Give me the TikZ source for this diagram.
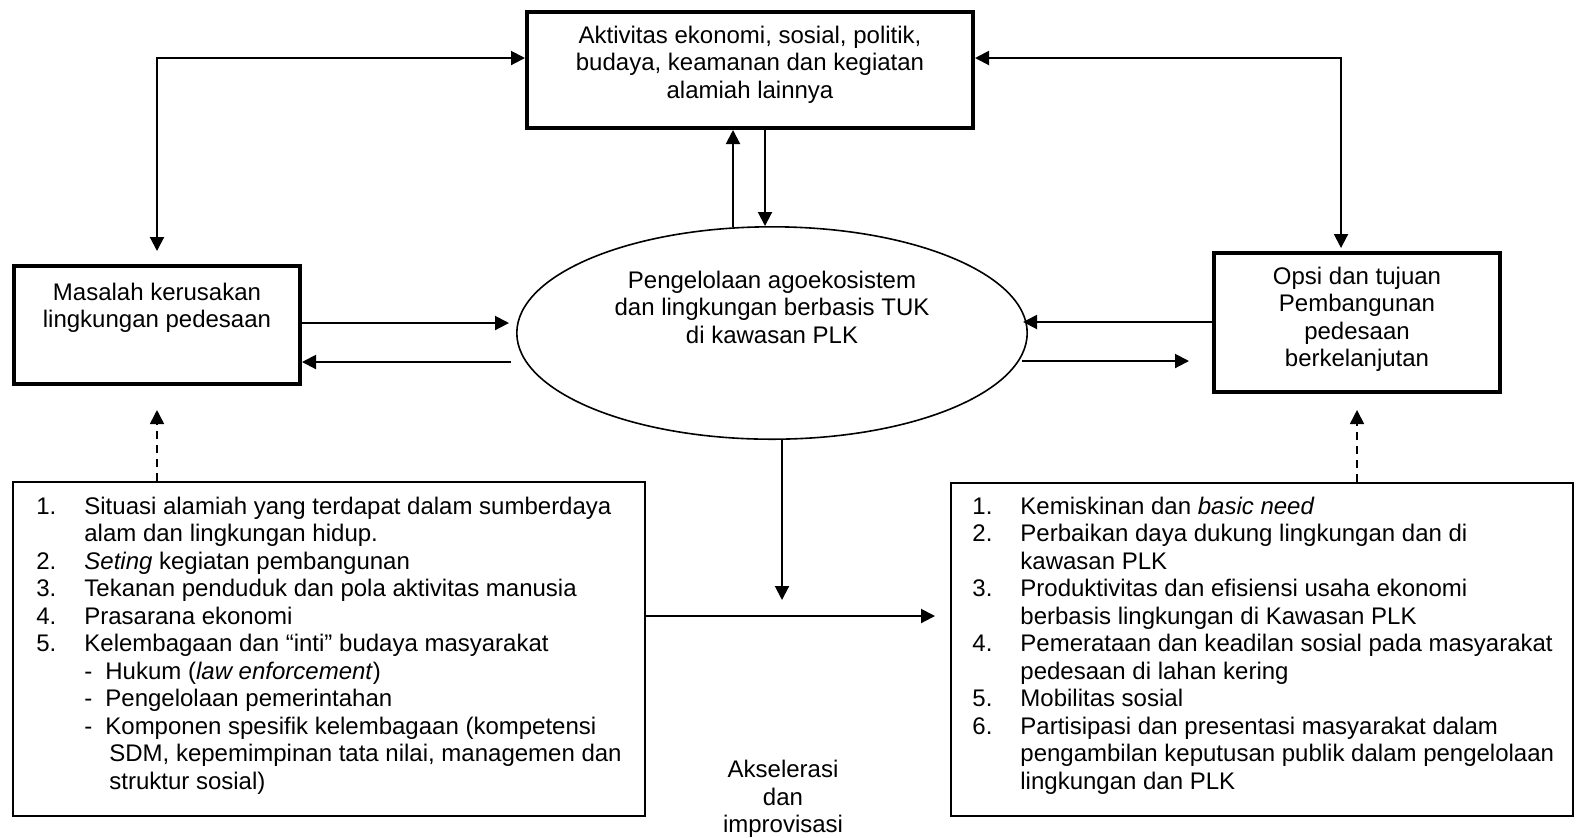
\documentclass[tikz,border=0pt]{standalone}
\usepackage{fontspec}
\setmainfont{Liberation Sans}
\usetikzlibrary{arrows.meta,shapes.geometric}
\newcommand\Litem[2]{\makebox[24pt][l]{#1}#2}
\newcommand\Lind[1]{\hspace*{24pt}#1}
\newcommand\Lsub[1]{\hspace*{24pt}\makebox[10.5pt][l]{-}#1}
\newcommand\Lcont[1]{\hspace*{36.5pt}#1}
\begin{document}
\begin{tikzpicture}[x=0.5pt,y=-0.5pt,
  font=\fontsize{12pt}{13.75pt}\selectfont,
  thickbox/.style={draw,line width=1.8pt,inner sep=0pt,rectangle},
  thinbox/.style={draw,line width=1pt,inner sep=0pt,rectangle},
  ellbox/.style={draw,line width=0.8pt,ellipse,inner sep=0pt},
  arr/.style={line width=1pt,-{Triangle[length=7pt,width=7pt]}},
  darr/.style={line width=1pt,{Triangle[length=7pt,width=7pt]}-{Triangle[length=7pt,width=7pt]}},
  dasharr/.style={line width=0.8pt,dash pattern=on 4pt off 3pt,-{Triangle[length=7pt,width=7pt]}},
  txt/.style={align=center,inner sep=0pt,anchor=base},
  lst/.style={align=left,inner sep=0pt,anchor=base west}]
\fill[white] (0,0) rectangle (1577,837);
\useasboundingbox (0,0) rectangle (1577,837);

% shapes
\node[thickbox,minimum width=223.2pt,minimum height=58.2pt] (tbox) at (750,70) {};
\node[thickbox,minimum width=143.2pt,minimum height=59.2pt] (lbox) at (157,325) {};
\node[thickbox,minimum width=143.2pt,minimum height=69.7pt] (rbox) at (1357,322.5) {};
\node[ellbox,minimum width=255.2pt,minimum height=106.2pt] (ell) at (772,333) {};
\node[thinbox,minimum width=316pt,minimum height=167pt] (blbox) at (329,649) {};
\node[thinbox,minimum width=311pt,minimum height=166.5pt] (brbox) at (1262,649.5) {};

% texts (anchor = baseline of last line)
\node[txt] (ttxt) at (750,98) {Aktivitas ekonomi, sosial, politik,\\budaya, keamanan dan kegiatan\\alamiah lainnya};
\node[txt] (etxt) at (772,343) {Pengelolaan agoekosistem\\dan lingkungan berbasis TUK\\di kawasan PLK};
\node[txt] (ltxt) at (157,327.5) {Masalah kerusakan\\lingkungan pedesaan};
\node[txt] (rtxt) at (1357,366.5) {Opsi dan tujuan\\Pembangunan\\pedesaan\\berkelanjutan};
\node[txt] (atxt) at (783,832.5) {Akselerasi\\dan\\improvisasi};

\node[lst] (llist) at (36,789) {%
\Litem{1.}{Situasi alamiah yang terdapat dalam sumberdaya}\\
\Lind{alam dan lingkungan hidup.}\\
\Litem{2.}{\textit{Seting} kegiatan pembangunan}\\
\Litem{3.}{Tekanan penduduk dan pola aktivitas manusia}\\
\Litem{4.}{Prasarana ekonomi}\\
\Litem{5.}{Kelembagaan dan “inti” budaya masyarakat}\\
\Lsub{Hukum (\textit{law enforcement})}\\
\Lsub{Pengelolaan pemerintahan}\\
\Lsub{Komponen spesifik kelembagaan (kompetensi}\\
\Lcont{SDM, kepemimpinan tata nilai, managemen dan}\\
\Lcont{struktur sosial)}};

\node[lst] (rlist) at (972,789) {%
\Litem{1.}{Kemiskinan dan \textit{basic need}}\\
\Litem{2.}{Perbaikan daya dukung lingkungan dan di}\\
\Lind{kawasan PLK}\\
\Litem{3.}{Produktivitas dan efisiensi usaha ekonomi}\\
\Lind{berbasis lingkungan di Kawasan PLK}\\
\Litem{4.}{Pemerataan dan keadilan sosial pada masyarakat}\\
\Lind{pedesaan di lahan kering}\\
\Litem{5.}{Mobilitas sosial}\\
\Litem{6.}{Partisipasi dan presentasi masyarakat dalam}\\
\Lind{pengambilan keputusan publik dalam pengelolaan}\\
\Lind{lingkungan dan PLK}};

% free-end coordinates
\coordinate (eL1) at (509,323);
\coordinate (eL2) at (511,362);
\coordinate (eR1) at (1023,322);
\coordinate (eR2) at (1022,361);
\coordinate (eR2t) at (1189,361);
\coordinate (eD) at (782,600);
\coordinate (eH) at (935,616);
\coordinate (dL) at (157,410);
\coordinate (dR) at (1357,410);

% connectors
\draw[darr] ([yshift=6.5pt]lbox.north) |- (tbox.west |- 0,58);
\draw[darr] ([yshift=1.5pt]rbox.north -| 1341,0) |- (tbox.east |- 0,58);
\draw[arr] (ell.north -| 733,0) ++(0,1) -- (tbox.south -| 733,0);
\draw[arr] (tbox.south -| 765,0) -- (ell.north -| 765,0);
\draw[arr] (lbox.east |- eL1) -- (eL1);
\draw[arr] (eL2) -- (lbox.east |- eL2);
\draw[arr] (rbox.west |- eR1) -- (eR1);
\draw[arr] (eR2) -- (eR2t);
\draw[arr] (ell.south -| eD) -- (eD);
\draw[arr] (blbox.east |- eH) -- (eH);
\draw[dasharr] (blbox.north -| dL) -- (dL);
\draw[dasharr] (brbox.north -| dR) -- (dR);
\end{tikzpicture}
\end{document}
